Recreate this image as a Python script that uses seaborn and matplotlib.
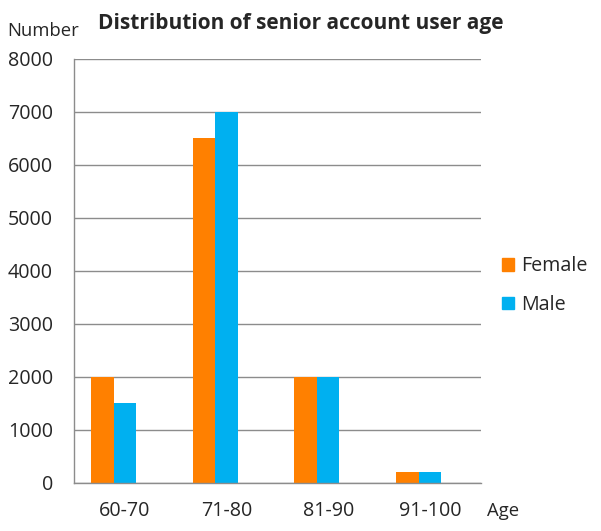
import pandas as pd
import seaborn as sns
import matplotlib.pyplot as plt
from matplotlib.patches import Patch

age_groups = ["60-70", "71-80", "81-90", "91-100"]
female = [2000, 6500, 2000, 200]
male = [1500, 7000, 2000, 200]

sns.set_style("white")
plt.rcParams['font.family'] = ['Open Sans', 'DejaVu Sans']

# excel chart had an empty third series, so bars sit left of the label
rows = []
for g, f, m in zip(age_groups, female, male):
    rows.append({"age": g, "sex": "Female", "n": f})
    rows.append({"age": g, "sex": "Male", "n": m})
    rows.append({"age": g, "sex": "pad", "n": 0})
df = pd.DataFrame(rows)

colors = {"Female": "#FF8000", "Male": "#00B0F0", "pad": "white"}

fig = plt.figure(figsize=(6.01, 5.31), dpi=100)
ax = fig.add_axes([0.123, 0.0904, 0.677, 0.7986])
sns.barplot(data=df, x="age", y="n", hue="sex", hue_order=["Female", "Male", "pad"],
            palette=colors, width=0.665, saturation=1, linewidth=0, ax=ax, legend=False)

ax.set_ylim(0, 8000)
ax.set_xlim(-0.5, 3.5)
ax.set_yticks(range(0, 8001, 1000))
ax.yaxis.grid(True, color="#8c8c8c", linewidth=1)
ax.set_axisbelow(True)
for s in ["top", "right"]:
    ax.spines[s].set_visible(False)
for s in ["left", "bottom"]:
    ax.spines[s].set_color("#8c8c8c")
    ax.spines[s].set_linewidth(1)
ax.tick_params(axis="y", length=0, pad=15, labelsize=14.2)
ax.tick_params(axis="x", length=0, pad=13, labelsize=14.2)
ax.set_xlabel("")
ax.set_ylabel("")

fig.text(0.012, 0.942, "Number", fontsize=13.3, ha="left", va="center")
fig.text(0.811, 0.038, "Age", fontsize=13.3, ha="left", va="center")
fig.text(0.5, 0.955, "Distribution of senior account user age", fontsize=15,
         fontweight="bold", ha="center", va="center")

handles = [Patch(color=colors["Female"], label="Female"),
           Patch(color=colors["Male"], label="Male")]
fig.legend(handles=handles, loc="center left", bbox_to_anchor=(0.835, 0.462),
           frameon=False, fontsize=14.2, handlelength=0.6, handleheight=0.6,
           handletextpad=0.4, labelspacing=0.95, borderpad=0, borderaxespad=0)

fig.savefig("out.png", dpi=100)
